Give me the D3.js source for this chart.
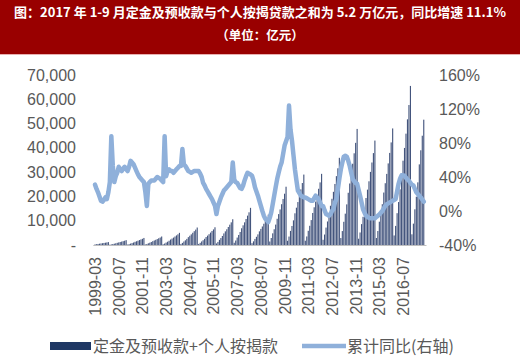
<!DOCTYPE html>
<html><head><meta charset="utf-8">
<script src="https://cdn.jsdelivr.net/npm/d3@7"></script>
<style>
html,body{margin:0;padding:0;background:#fff;}
svg{display:block;font-family:"Liberation Sans",Arial,"Noto Sans CJK SC",sans-serif;}
</style></head><body>
<svg id="c" width="520" height="361"></svg>
<script>
// ---- data ----
const startYear = 1999, startMonth = 3;
// cumulative value (亿元), monthly, 1999-03 .. 2017-09
const v1999 = [240,320,420,540,640,730,840,950,1060,1200];
const v2000 = [120,240,400,540,700,900,1060,1220,1400,1580,1760,2000];
const v2001 = [170,350,580,780,1020,1310,1540,1770,2030,2290,2550,2900];
const v2002 = [210,420,700,950,1230,1580,1860,2140,2450,2770,3080,3500];
const v2003 = [300,600,1000,1350,1750,2250,2650,3050,3500,3950,4400,5000];
const v2004 = [430,860,1440,1940,2520,3240,3820,4390,5040,5690,6340,7200];
const v2005 = [440,880,1460,1970,2560,3290,3870,4450,5110,5770,6420,7300];
const v2006 = [640,1270,2120,2860,3710,4770,5620,6470,7420,8370,9330,10600];
const v2007 = [920,1840,3060,4130,5360,6890,8110,9330,10710,12090,13460,15300];
const v2008 = [750,1500,2500,3380,4380,5630,6630,7630,8750,9880,11000,12500];
const v2009 = [1440,2880,4800,6480,8400,10800,12720,14640,16800,18960,21120,24000];
const v2010 = [1740,3480,5800,7830,10150,13050,15370,17690,20300,22910,25520,29000];
const v2011 = [1760,3520,5860,7910,10260,13190,15530,17870,20510,23150,25780,29300];
const v2012 = [2150,4310,7180,9690,12570,16160,19030,21900,25130,28360,31590,35900];
const v2013 = [2870,5740,9560,12910,16730,21510,25330,29160,33460,37760,42060,47800];
const v2014 = [2580,5160,8600,11610,15050,19350,22790,26230,30100,33970,37840,43000];
const v2015 = [2880,5760,9600,12960,16800,21600,25440,29280,33600,37920,42240,48000];
const v2016 = [3930,7860,13100,17690,22930,29480,34720,39960,45850,51750,57640,65500];
const v2017 = [4400,8800,14700,19900,25800,33200,39000,45000,51600];
// cumulative YoY (%)
const y1999 = [31,26,22,17,12,11,13,16,14,22];
const y2000 = [34,88,53,34,41,45,52,49,47,50,52,49];
const y2001 = [47,52,59,57,55,51,47,43,40,38,36,34];
const y2002 = [22,6,32,34,36,36,36,38,40,39,38,36];
const y2003 = [34,88,41,47,49,47,47,45,47,49,51,53];
const y2004 = [53,73,55,53,50,47,46,45,46,47,47,47];
const y2005 = [47,44,40,33,30,26,23,20,17,14,10,6];
const y2006 = [-3.5,6,11,16,20,24,26,28,30,32,34,57];
const y2007 = [37,34,33,30,27,26,30,36,41,45,44,43];
const y2008 = [41.5,36,28,23,18,12,6,0,-5.5,-9,-11,-13];
const y2009 = [-8,-1.6,8,18,28,37.6,45,52,57,67,77,82];
const y2010 = [87,124,96,83,66,49,36,24,21,18,17,16];
const y2011 = [16,15,14,13,12,12,15,18,16,14,10,6];
const y2012 = [6,1,-3.5,-4.5,-5.5,-4,0,2,10,14,26,38];
const y2013 = [49,57,64,65,64,59,53,45,37.6,35,33,32];
const y2014 = [25,18,10,2,-2,-5.5,-7,-8,-8.6,-8.6,-8.6,-8.6];
const y2015 = [-7,-5.5,-4,-2,0,3,6,8,9,10,11,12];
const y2016 = [13,14,23,32,38,42,42,41.5,39,37,35.6,33];
const y2017 = [31,30,26,22,20,18,16,13.5,11.1];

const tickLabels = ['1999-03','2000-07','2001-11','2003-03','2004-07','2005-11','2007-03','2008-07','2009-11','2011-03','2012-07','2013-11','2015-03','2016-07'];
const leftTicks = [0,10000,20000,30000,40000,50000,60000,70000];
const rightTicks = [-40,0,40,80,120,160];
const title1 = '图：2017 年 1-9 月定金及预收款与个人按揭贷款之和为 5.2 万亿元，同比增速 11.1%';
const title2 = '（单位：亿元）';
const legend1 = '定金及预收款+个人按揭款';
const legend2 = '累计同比(右轴)';

const values = [].concat(v1999,v2000,v2001,v2002,v2003,v2004,v2005,v2006,v2007,v2008,v2009,v2010,v2011,v2012,v2013,v2014,v2015,v2016,v2017);
const yoy = [].concat(y1999,y2000,y2001,y2002,y2003,y2004,y2005,y2006,y2007,y2008,y2009,y2010,y2011,y2012,y2013,y2014,y2015,y2016,y2017);
const categories = values.map((_, i) => {
  const m = startMonth - 1 + i;
  const yr = startYear + Math.floor(m / 12), mo = m % 12 + 1;
  return yr + '-' + String(mo).padStart(2, '0');
});
const data = categories.map((c, i) => ({c, v: values[i], p: yoy[i]}));

// ---- drawing ----
const svg = d3.select('#c');
const W = 520;
svg.append('rect').attr('x',0).attr('y',0).attr('width',W).attr('height',54).attr('fill','#990000');
svg.append('rect').attr('x',0).attr('y',54).attr('width',W).attr('height',1).attr('fill','#e8b0b0');
svg.append('text').attr('x',260).attr('y',17).attr('text-anchor','middle')
  .attr('fill','#fff').attr('font-size',13).attr('font-weight','bold')
  .attr('font-family','"Noto Sans CJK SC","Liberation Sans",sans-serif').text(title1);
svg.append('text').attr('x',260).attr('y',40).attr('text-anchor','middle')
  .attr('fill','#fff').attr('font-size',12.5).attr('font-weight','bold')
  .attr('font-family','"Noto Sans CJK SC","Liberation Sans",sans-serif').text(title2);

const plotTop = 75, plotBottom = 245, plotLeft = 94.3, plotRight = 424.5;
const x = d3.scaleBand().domain(categories).range([plotLeft, plotRight]).padding(0);
const yL = d3.scaleLinear().domain([0,70000]).range([plotBottom, plotTop]);
const yR = d3.scaleLinear().domain([-40,160]).range([plotBottom, plotTop]);

// bars
svg.append('g').selectAll('rect').data(data).join('rect')
  .attr('x', d => x(d.c) + x.bandwidth()*0.12)
  .attr('width', x.bandwidth()*0.76)
  .attr('y', d => yL(d.v))
  .attr('height', d => yL(0) - yL(d.v))
  .attr('fill', '#44557d');

// baseline
svg.append('line').attr('x1',plotLeft-1).attr('x2',plotRight+2).attr('y1',plotBottom+0.5).attr('y2',plotBottom+0.5)
  .attr('stroke','#bfbfbf').attr('stroke-width',1);

// line
const line = d3.line().x(d => x(d.c) + x.bandwidth()/2).y(d => yR(d.p)).curve(d3.curveLinear);
svg.append('path').datum(data).attr('d', line).attr('fill','none')
  .attr('stroke','#8fb0da').attr('stroke-width',4.5).attr('stroke-linejoin','round').attr('stroke-linecap','round');

// left axis
const axL = svg.append('g').attr('transform','translate(76,0)')
  .call(d3.axisLeft(yL).tickValues(leftTicks).tickSize(0).tickPadding(0)
    .tickFormat(d => d === 0 ? '-' : d3.format(',')(d)));
axL.select('.domain').remove();
axL.selectAll('text').attr('font-size',16).attr('fill','#595959').attr('font-family','"Liberation Sans",Arial,sans-serif');

// right axis
const axR = svg.append('g').attr('transform','translate(439,0)')
  .call(d3.axisRight(yR).tickValues(rightTicks).tickSize(0).tickPadding(0).tickFormat(d => d + '%'));
axR.select('.domain').remove();
axR.selectAll('text').attr('font-size',16).attr('fill','#595959').attr('font-family','"Liberation Sans",Arial,sans-serif');

// x axis labels
const xt = svg.append('g');
xt.selectAll('text').data(tickLabels).join('text')
  .attr('transform', d => `translate(${x(d) + x.bandwidth()/2 + 6},${plotBottom + 12}) rotate(-90)`)
  .attr('text-anchor','end').attr('font-size',16).attr('fill','#595959')
  .attr('font-family','"Liberation Sans",Arial,sans-serif').text(d => d);

// legend
const lg = svg.append('g');
lg.append('rect').attr('x',50).attr('y',342).attr('width',41).attr('height',8).attr('fill','#1f3864');
lg.append('text').attr('x',93).attr('y',352).attr('font-size',16).attr('fill','#595959')
  .attr('font-family','"Noto Sans CJK SC",sans-serif').text(legend1);
lg.append('line').attr('x1',302).attr('x2',346).attr('y1',346).attr('y2',346)
  .attr('stroke','#8fb0da').attr('stroke-width',4.5);
lg.append('text').attr('x',347).attr('y',352).attr('font-size',16).attr('fill','#595959')
  .attr('font-family','"Noto Sans CJK SC",sans-serif').text(legend2);
</script>
</body></html>
